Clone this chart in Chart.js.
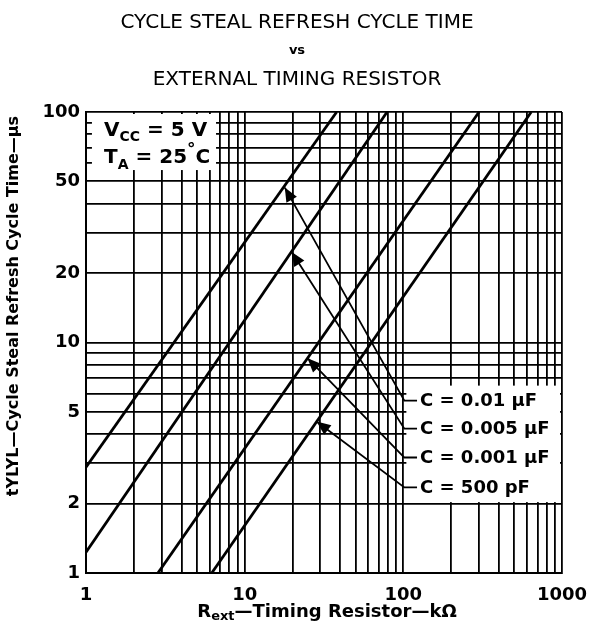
<!DOCTYPE html>
<html>
<head>
<meta charset="utf-8">
<script src="https://cdn.jsdelivr.net/npm/chart.js@4.4.1/dist/chart.umd.min.js"></script>
<style>
    html, body { margin: 0; padding: 0; background: #fff; }
    #wrap { width: 592px; height: 633px; }
</style>
</head>
<body>
<div id="wrap"><canvas id="chart"></canvas></div>
<script>
// curves: [R kΩ, t µs] end points of each straight line
const c001uF = [[1, 2.88], [38, 100]];
const c0005uF = [[1, 1.23], [79, 100]];
const c0001uF = [[2.84, 1], [300, 100]];
const c500pF = [[6.2, 1], [640, 100]];

const curveNames = ["C = 0.01 µF", "C = 0.005 µF", "C = 0.001 µF", "C = 500 pF"];
// where each arrow touches its curve, and where its leader ends at the label
const arrowR = [17.9, 19.8, 24.9, 28.4];
const arrowT = [47, 24.7, 8.55, 4.54];
const labelT = [5.59, 4.23, 3.17, 2.35];
const labelBendR = 101.5;
const labelEndR = 122;

const xTickLabels = [1, 10, 100, 1000];
const yTickLabels = [1, 2, 5, 10, 20, 50, 100];
const gridSteps = [1, 2, 3, 4, 5, 6, 7, 8, 9];
const xGrid = [1, 10, 100].flatMap(d => gridSteps.map(s => s * d)).concat([1000]);
const yGrid = [1, 10].flatMap(d => gridSteps.map(s => s * d)).concat([100]);

const toPoints = arr => arr.map(p => ({ x: p[0], y: p[1] }));
const tickFont = { family: "DejaVu Sans", size: 18, weight: "bold" };

const decorPlugin = {
    id: "decor",
    beforeDatasetsDraw(chart) {
        const ctx = chart.ctx;
        const xs = chart.scales.x, ys = chart.scales.y;
        ctx.save();
        ctx.fillStyle = "#fff";
        // conditions box, top left
        let x0 = xs.getPixelForValue(1.09), x1 = xs.getPixelForValue(6.6);
        let y0 = chart.chartArea.top + 2, y1 = ys.getPixelForValue(56);
        ctx.fillRect(x0, y0, x1 - x0, y1 - y0);
        // label box, lower right
        x0 = xs.getPixelForValue(104.5);
        x1 = chart.chartArea.right - 2;
        y0 = ys.getPixelForValue(6.5);
        y1 = ys.getPixelForValue(2.03);
        ctx.fillRect(x0, y0, x1 - x0, y1 - y0);
        ctx.restore();
    },
    afterDatasetsDraw(chart) {
        const ctx = chart.ctx;
        const xs = chart.scales.x, ys = chart.scales.y;
        ctx.save();
        ctx.strokeStyle = "#000";
        ctx.fillStyle = "#000";
        ctx.lineWidth = 1.8;
        for (let i = 0; i < curveNames.length; i++) {
            const tx = xs.getPixelForValue(arrowR[i]), ty = ys.getPixelForValue(arrowT[i]);
            const bx = xs.getPixelForValue(labelBendR), by = ys.getPixelForValue(labelT[i]);
            const ex = xs.getPixelForValue(labelEndR);
            ctx.beginPath();
            ctx.moveTo(tx, ty);
            ctx.lineTo(bx, by);
            ctx.lineTo(ex, by);
            ctx.stroke();
            // arrow head
            const ang = Math.atan2(ty - by, tx - bx);
            const len = 14, half = 6;
            const baseX = tx - len * Math.cos(ang), baseY = ty - len * Math.sin(ang);
            ctx.beginPath();
            ctx.moveTo(tx, ty);
            ctx.lineTo(baseX + half * Math.sin(ang), baseY - half * Math.cos(ang));
            ctx.lineTo(baseX - half * Math.sin(ang), baseY + half * Math.cos(ang));
            ctx.closePath();
            ctx.fill();
            ctx.font = "bold 18px 'DejaVu Sans'";
            ctx.textBaseline = "middle";
            ctx.textAlign = "left";
            ctx.fillText(curveNames[i], ex + 3, by + 1);
        }

        // conditions text
        const left = xs.getPixelForValue(1.3);
        const top = chart.chartArea.top;
        ctx.textBaseline = "alphabetic";
        let x = left;
        ctx.font = "bold 20px 'DejaVu Sans'";
        ctx.fillText("V", x, top + 24);
        x += ctx.measureText("V").width;
        ctx.font = "bold 14px 'DejaVu Sans'";
        ctx.fillText("CC", x, top + 29);
        x += ctx.measureText("CC").width;
        ctx.font = "bold 20px 'DejaVu Sans'";
        ctx.fillText(" = 5 V", x, top + 24);

        x = left;
        ctx.fillText("T", x, top + 51);
        x += ctx.measureText("T").width;
        ctx.font = "bold 14px 'DejaVu Sans'";
        ctx.fillText("A", x, top + 57);
        x += ctx.measureText("A").width;
        ctx.font = "bold 20px 'DejaVu Sans'";
        ctx.fillText(" = 25", x, top + 51);
        x += ctx.measureText(" = 25").width;
        ctx.font = "bold 17px 'DejaVu Sans'";
        ctx.fillText("°", x, top + 43);
        x += ctx.measureText("°").width;
        ctx.font = "bold 20px 'DejaVu Sans'";
        ctx.fillText("C", x, top + 51);
        ctx.restore();
    },
    afterDraw(chart) {
        const ctx = chart.ctx;
        const area = chart.chartArea;
        ctx.save();
        ctx.fillStyle = "#000";
        ctx.textAlign = "center";
        ctx.textBaseline = "alphabetic";
        const cx = 297;
        ctx.font = "20px 'DejaVu Sans'";
        ctx.fillText("CYCLE STEAL REFRESH CYCLE TIME", cx, 28);
        ctx.font = "bold 13px 'DejaVu Sans'";
        ctx.fillText("vs", cx, 54);
        ctx.font = "20px 'DejaVu Sans'";
        ctx.fillText("EXTERNAL TIMING RESISTOR", cx, 85);

        // x axis title with subscript
        ctx.textAlign = "left";
        const big = "bold 18px 'DejaVu Sans'", small = "bold 13px 'DejaVu Sans'";
        ctx.font = big;
        const wR = ctx.measureText("R").width;
        const wRest = ctx.measureText("—Timing Resistor—kΩ").width;
        ctx.font = small;
        const wSub = ctx.measureText("ext").width;
        let x = (area.left + area.right) / 2 + 3 - (wR + wSub + wRest) / 2;
        const base = 617;
        ctx.font = big;
        ctx.fillText("R", x, base);
        x += wR;
        ctx.font = small;
        ctx.fillText("ext", x, base + 3);
        x += wSub;
        ctx.font = big;
        ctx.fillText("—Timing Resistor—kΩ", x, base);

        // y axis title
        ctx.translate(18, 306);
        ctx.rotate(-Math.PI / 2);
        ctx.textAlign = "center";
        ctx.font = "bold 16px 'DejaVu Sans'";
        ctx.fillText("tYLYL—Cycle Steal Refresh Cycle Time—µs", 0, 0);
        ctx.restore();
    }
};

const lineStyle = {
    showLine: true,
    borderColor: "#000",
    borderWidth: 2.8,
    pointRadius: 0,
    fill: false
};

new Chart(document.getElementById("chart"), {
    type: "scatter",
    data: {
        datasets: [
            { label: curveNames[0], data: toPoints(c001uF), ...lineStyle },
            { label: curveNames[1], data: toPoints(c0005uF), ...lineStyle },
            { label: curveNames[2], data: toPoints(c0001uF), ...lineStyle },
            { label: curveNames[3], data: toPoints(c500pF), ...lineStyle }
        ]
    },
    options: {
        responsive: true,
        maintainAspectRatio: false,
        animation: false,
        layout: { padding: { top: 112, right: 30, bottom: 0, left: 0 } },
        plugins: {
            legend: { display: false },
            tooltip: { enabled: false }
        },
        scales: {
            x: {
                type: "logarithmic",
                min: 1,
                max: 1000,
                afterBuildTicks: scale => { scale.ticks = xGrid.map(v => ({ value: v })); },
                afterFit: scale => {
                    scale.height = 60;
                    scale.paddingLeft = 0;
                    scale.paddingRight = 0;
                },
                ticks: {
                    autoSkip: false,
                    maxRotation: 0,
                    padding: 12,
                    color: "#000",
                    font: tickFont,
                    callback: v => xTickLabels.includes(v) ? String(v) : ""
                },
                grid: { color: "#000", lineWidth: 1.8, drawTicks: false },
                border: { color: "#000", width: 2 }
            },
            y: {
                type: "logarithmic",
                min: 1,
                max: 100,
                afterBuildTicks: scale => { scale.ticks = yGrid.map(v => ({ value: v })); },
                afterFit: scale => {
                    scale.width = 86;
                    scale.paddingTop = 0;
                    scale.paddingBottom = 0;
                },
                ticks: {
                    autoSkip: false,
                    padding: 6,
                    color: "#000",
                    font: tickFont,
                    callback: v => yTickLabels.includes(v) ? String(v) : ""
                },
                grid: { color: "#000", lineWidth: 1.8, drawTicks: false },
                border: { color: "#000", width: 2 }
            }
        }
    },
    plugins: [decorPlugin]
});
</script>
</body>
</html>
